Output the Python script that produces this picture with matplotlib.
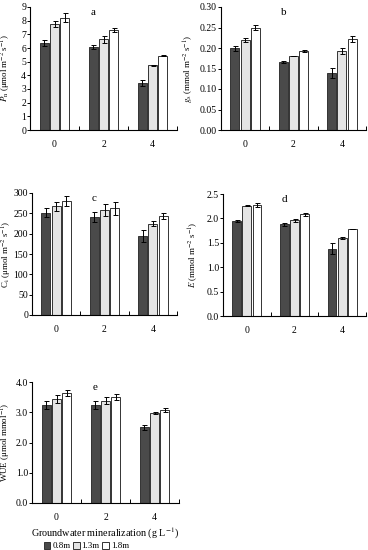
import matplotlib
matplotlib.use("Agg")
import matplotlib.pyplot as plt
import matplotlib.transforms as mtransforms
import numpy as np

plt.rcParams["font.family"] = ["Liberation Serif", "DejaVu Serif"]
plt.rcParams["mathtext.fontset"] = "stix"

groups = ["0", "2", "4"]
depths = ["0.8m", "1.3m", "1.8m"]
colors = ["#4a4a4a", "#e4e4e4", "#ffffff"]

# values per depth (0.8m, 1.3m, 1.8m), each over mineralization 0, 2, 4
pn = [[6.33, 6.08, 3.47], [7.79, 6.64, 4.72], [8.23, 7.30, 5.45]]
pn_err = [[0.22, 0.16, 0.22], [0.22, 0.26, 0.05], [0.33, 0.16, 0.06]]

gs = [[0.199, 0.166, 0.140], [0.220, 0.180, 0.193], [0.249, 0.193, 0.222]]
gs_err = [[0.006, 0.003, 0.012], [0.005, 0.0005, 0.007], [0.006, 0.003, 0.007]]

ci = [[252, 241, 194], [267, 258, 224], [280, 262, 244]]
ci_err = [[12, 12, 14], [12, 14, 6], [12, 16, 8]]

e = [[1.94, 1.88, 1.38], [2.26, 1.96, 1.60], [2.28, 2.08, 1.78]]
e_err = [[0.02, 0.03, 0.11], [0.01, 0.03, 0.015], [0.04, 0.025, 0.005]]

wue = [[3.25, 3.25, 2.50], [3.44, 3.38, 2.97], [3.63, 3.51, 3.07]]
wue_err = [[0.13, 0.13, 0.09], [0.13, 0.11, 0.04], [0.10, 0.10, 0.06]]

panels = [
    (pn, pn_err, r"$P_\mathrm{n}$ (μmol m$^{-2}$ s$^{-1}$)", "a", (0, 9), 1, "{:.0f}"),
    (gs, gs_err, r"$g_\mathrm{s}$ (mmol m$^{-2}$ s$^{-1}$)", "b", (0, 0.30), 0.05, "{:.2f}"),
    (ci, ci_err, r"C$_\mathrm{i}$ (μmol m$^{-2}$ s$^{-1}$)", "c", (0, 300), 50, "{:.0f}"),
    (e, e_err, r"$E$ (mmol m$^{-2}$ s$^{-1}$)", "d", (0, 2.5), 0.5, "{:.1f}"),
    (wue, wue_err, r"WUE (μmol mmol$^{-1}$)", "e", (0, 4.0), 1.0, "{:.1f}"),
]

W, H = 368, 550
# axes rectangles in pixels: left, top, right, bottom
boxes = [
    (30, 7, 177, 130),
    (221, 7, 366, 130),
    (32, 193, 177, 315),
    (223, 194, 366, 316),
    (32, 382, 179, 503),
]
# right edge of each rotated y label, in pixels
label_x = [13, 196, 13.5, 200, 13]

fig = plt.figure(figsize=(W / 100, H / 100), dpi=100)
x = np.arange(len(groups))
w = 0.185
step = 0.213

for (vals, errs, ylab, letter, ylim, ystep, fmt), (l, t, r, b), lx in zip(panels, boxes, label_x):
    ax = fig.add_axes([l / W, 1 - b / H, (r - l) / W, (b - t) / H])
    for i in range(3):
        ax.bar(x + (i - 1) * step, vals[i], width=w, color=colors[i],
               edgecolor="#333333", linewidth=0.7, label=depths[i], zorder=2)
        ax.errorbar(x + (i - 1) * step, vals[i], yerr=errs[i], fmt="none",
                    ecolor="black", elinewidth=0.7, capsize=1.8, capthick=0.7, zorder=3)
    ax.set_xlim(-0.5, 2.5)
    ax.set_ylim(*ylim)
    yt = np.arange(ylim[0], ylim[1] + ystep / 2, ystep)
    ax.set_yticks(yt)
    ax.set_yticklabels([fmt.format(v) for v in yt])
    ax.set_xticks(x)
    ax.set_xticklabels(groups)
    ax.set_xticks([0.5, 1.5, 2.5], minor=True)
    ax.tick_params(axis="x", which="major", length=0, pad=7, labelsize=7)
    ax.tick_params(axis="x", which="minor", direction="in", length=3, width=0.7)
    ax.tick_params(axis="y", direction="out", length=2, width=0.7, labelsize=7, pad=0.8)
    for s in ["top", "right"]:
        ax.spines[s].set_visible(False)
    for s in ["left", "bottom"]:
        ax.spines[s].set_linewidth(0.8)
    ax.set_ylabel(ylab, fontsize=6.4)
    trans = mtransforms.blended_transform_factory(fig.transFigure, ax.transAxes)
    ax.yaxis.set_label_coords(lx / W, 0.5, transform=trans)
    ax.text(0.43, 0.99, letter, transform=ax.transAxes, ha="center", va="top", fontsize=8)
    last = ax

last.set_xlabel("Groundwater mineralization (g L$^{-1}$)", fontsize=7.3, labelpad=3)
last.legend(loc="upper center", bbox_to_anchor=(0.37, -0.285), ncol=3, frameon=False,
            fontsize=6.5, handlelength=0.75, handleheight=0.75, handletextpad=0.2,
            columnspacing=0.3, borderpad=0)

fig.savefig("out.png", dpi=100)
